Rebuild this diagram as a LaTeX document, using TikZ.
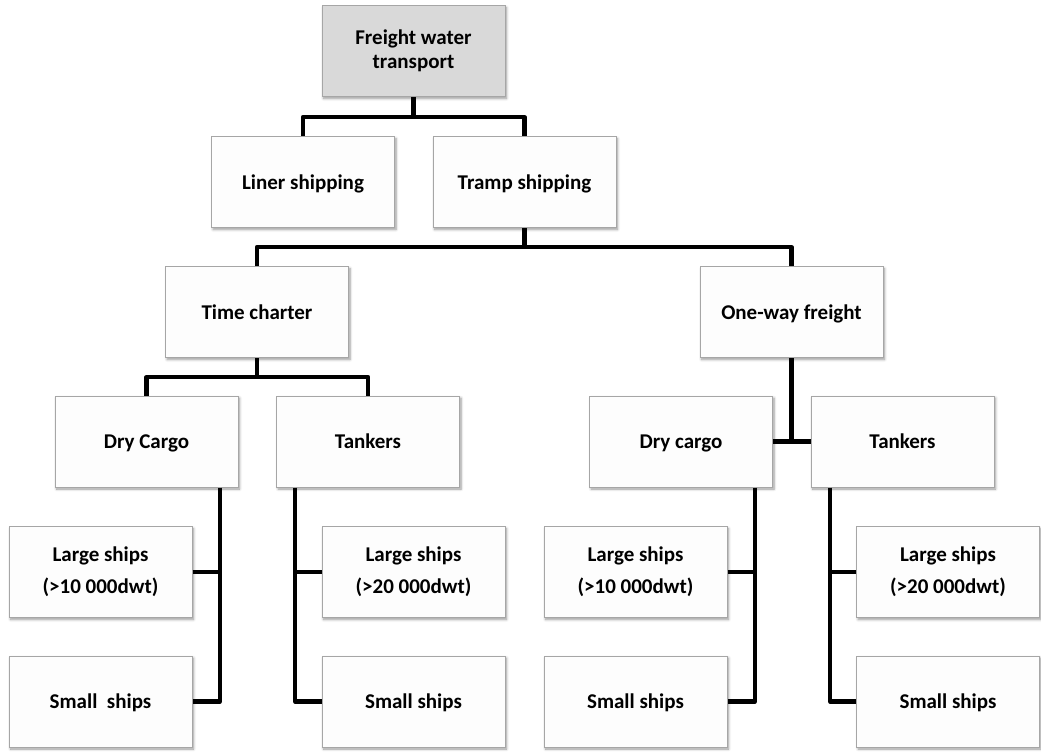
\documentclass[tikz,border=0pt]{standalone}
\usepackage{fontspec}
\setmainfont{Carlito}
\usetikzlibrary{shadows.blur}
\definecolor{boxborder}{HTML}{A6A6A6}
\definecolor{boxfill}{HTML}{FDFDFD}
\definecolor{rootfill}{HTML}{D9D9D9}
\tikzset{
  box/.style={draw=boxborder, line width=1pt, fill=boxfill, minimum width=183pt, minimum height=91pt,
    inner sep=0pt, align=center, font=\fontsize{21pt}{32pt}\selectfont\bfseries,
    blur shadow={shadow xshift=1.5pt, shadow yshift=-2pt, shadow blur radius=2.5pt, shadow blur steps=6, shadow opacity=40}},
  onebox/.style={box, text height=14pt, text depth=0pt},
  rootbox/.style={box, fill=rootfill, font=\fontsize{21pt}{23.5pt}\selectfont\bfseries},
  conn/.style={line width=4.2pt, line join=round, line cap=butt}
}
\begin{document}
\begin{tikzpicture}[x=1pt, y=-1pt]
\useasboundingbox (0,0) rectangle (1041,752);
\node[rootbox] (root) at (413.5,51) {Freight water\\transport};
\node[onebox] (liner) at (303,182) {Liner shipping};
\node[onebox] (tramp) at (524.5,182) {Tramp shipping};
\node[onebox] (time) at (257,312) {Time charter};
\node[onebox] (oneway) at (791.5,312) {One-way freight};
\node[onebox] (dry1) at (146.5,441.5) {Dry Cargo};
\node[onebox] (tank1) at (368,441.5) {Tankers};
\node[onebox] (dry2) at (681,441.5) {Dry cargo};
\node[onebox] (tank2) at (902.5,441.5) {Tankers};
\node[box] (L1) at (100.5,572) {Large ships\\(>10 000dwt)};
\node[onebox] (S1) at (100.5,701.5) {Small\ \ ships};
\node[box] (L2) at (413.5,572) {Large ships\\ (>20 000dwt)};
\node[onebox] (S2) at (413.5,701.5) {Small ships};
\node[box] (L3) at (635.5,572) {Large ships\\(>10 000dwt)};
\node[onebox] (S3) at (635.5,701.5) {Small ships};
\node[box] (L4) at (948,572) {Large ships\\ (>20 000dwt)};
\node[onebox] (S4) at (948,701.5) {Small ships};
% connectors
\coordinate (j0) at (413.5,117);
\draw[conn] (root.south) -- (j0);
\draw[conn] (liner.north) |- (j0) -| (tramp.north);
\coordinate (j1) at (524.5,247);
\draw[conn] (tramp.south) -- (j1);
\draw[conn] (time.north) |- (j1) -| (oneway.north);
\coordinate (j2) at (257,377);
\draw[conn] (time.south) -- (j2);
\draw[conn] (dry1.north) |- (j2) -| (tank1.north);
\coordinate (j3) at (791.5,441.5);
\draw[conn] (oneway.south) -- (j3);
\draw[conn] (dry2.east) -- (tank2.west);
% sub branches
\coordinate (d1) at (220,0);
\draw[conn] (dry1.south -| d1) |- (S1.east);
\draw[conn] (L1.east) -- (L1.east -| d1);
\coordinate (t1) at (295,0);
\draw[conn] (tank1.south -| t1) |- (S2.west);
\draw[conn] (L2.west) -- (L2.west -| t1);
\coordinate (d2) at (755,0);
\draw[conn] (dry2.south -| d2) |- (S3.east);
\draw[conn] (L3.east) -- (L3.east -| d2);
\coordinate (t2) at (830,0);
\draw[conn] (tank2.south -| t2) |- (S4.west);
\draw[conn] (L4.west) -- (L4.west -| t2);
\end{tikzpicture}
\end{document}
